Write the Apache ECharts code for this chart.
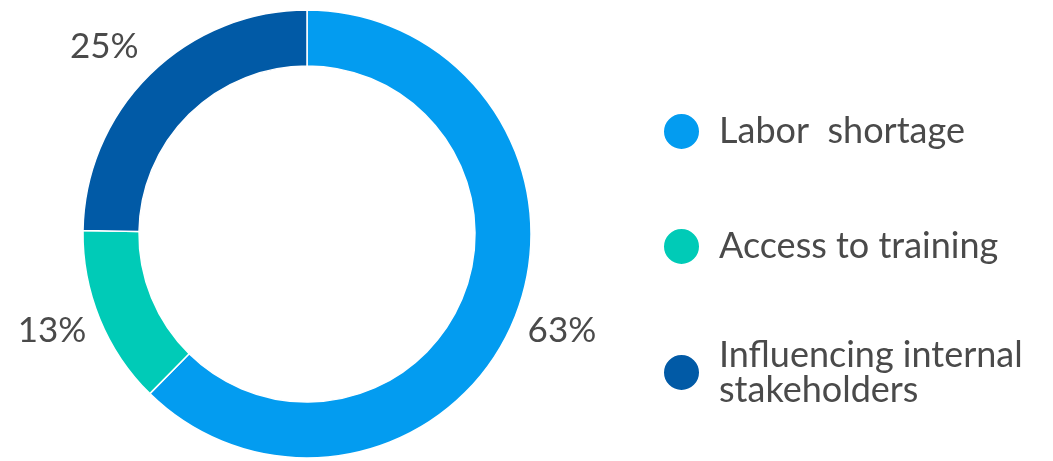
<!DOCTYPE html>
<html>
<head>
<meta charset="utf-8">
<style>
  html, body { margin: 0; padding: 0; background: #ffffff; }
  #chart { width: 1053px; height: 461px; }
</style>
<script src="https://cdn.jsdelivr.net/npm/echarts@6/dist/echarts.min.js"></script>
</head>
<body>
<div id="chart"></div>
<script>
// Share of respondents by main challenge
const categories = ['Labor  shortage', 'Access to training', 'Influencing internal\nstakeholders'];
const shares = [63, 13, 25];
const colors = ['#039cf0', '#00cbb7', '#015aa6'];

const textColor = '#4a4a4a';
const fontFamily = 'Lato, "Noto Sans", sans-serif';

const chart = echarts.init(document.getElementById('chart'), null, { renderer: 'canvas' });

// one legend block per category so each row sits where it should
const legendTops = [112, 227, 337];
const legends = categories.map((name, i) => ({
  data: [name],
  orient: 'vertical',
  left: 662,
  top: legendTops[i],
  padding: 0,
  icon: 'circle',
  itemWidth: 37,
  itemHeight: 37,
  selectedMode: false,
  textStyle: {
    color: textColor,
    fontFamily: fontFamily,
    fontSize: 36,
    lineHeight: 35,
    padding: [0, 0, 0, 14]
  }
}));

// small vertical nudges for the outside value labels
const labelNudge = [8, 8, -21];

chart.setOption({
  animation: false,
  color: colors,
  legend: legends,
  series: [{
    type: 'pie',
    center: [307, 234],
    radius: [168, 224],
    startAngle: 90,
    clockwise: true,
    avoidLabelOverlap: false,
    itemStyle: { borderColor: '#ffffff', borderWidth: 1.5 },
    label: {
      show: true,
      position: 'outside',
      formatter: '{c}%',
      color: textColor,
      fontFamily: fontFamily,
      fontSize: 35
    },
    labelLine: { show: false, length: 9, length2: 0 },
    labelLayout: (params) => ({ dy: labelNudge[params.dataIndex] }),
    emphasis: { disabled: true },
    data: categories.map((name, i) => ({ name: name, value: shares[i] }))
  }]
});
</script>
</body>
</html>
